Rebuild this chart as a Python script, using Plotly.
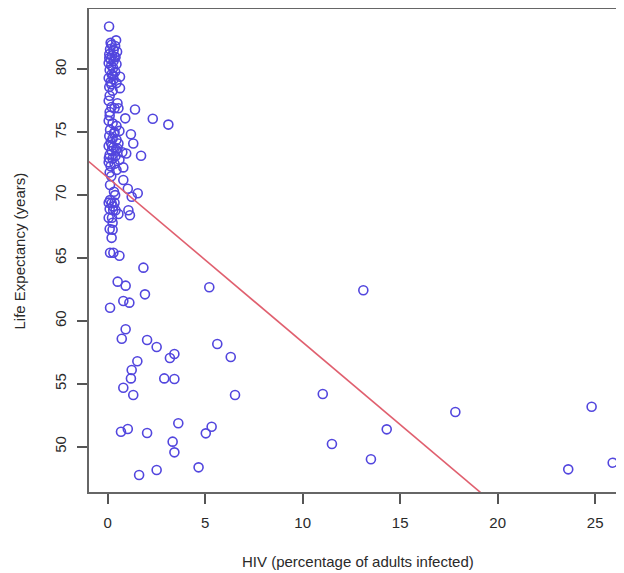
import plotly.graph_objects as go

# HIV (% adults infected) and life expectancy (years)
hiv = [
    0.07, 0.43, 0.20, 0.38, 0.12, 0.30, 0.48, 0.08, 0.22, 0.40,
    0.15, 0.30, 0.05, 0.45, 0.18, 0.28, 0.10, 0.38, 0.20, 0.63,
    0.05, 0.30, 0.15, 0.45, 0.08, 0.63, 0.25, 0.10, 0.05, 0.20,
    0.35, 0.55, 0.10, 0.90, 1.40, 2.31, 3.11, 0.05, 0.25, 0.45,
    0.12, 0.35, 0.60, 1.19, 0.08, 0.25, 0.45, 0.15, 0.55, 1.31,
    0.05, 0.30, 0.50, 0.20, 0.75, 0.95, 0.10, 0.40, 1.71, 0.25,
    0.60, 0.05, 0.35, 0.15, 0.80, 0.45, 0.10, 0.80, 0.12, 1.03,
    0.32, 1.54, 1.23, 0.05, 0.20, 0.35, 0.10, 0.28, 0.40, 1.06,
    1.14, 0.05, 0.22, 0.25, 0.10, 0.25, 0.20, 0.12, 0.29, 0.60,
    1.83, 0.51, 0.92, 1.91, 0.80, 1.11, 0.12, 0.92, 0.72, 2.02,
    2.51, 3.42, 3.19, 1.52, 1.23, 1.19, 2.90, 3.42, 0.80, 1.31,
    3.62, 0.68, 1.03, 2.02, 3.33, 3.42, 2.51, 1.61, 4.66, 5.21,
    13.11, 5.62, 6.31, 6.53, 5.33, 5.03, 11.03, 14.31, 11.50, 13.50,
    17.83, 24.82, 23.62, 25.90, 0.15, 0.35, 0.08, 0.28, 0.18, 0.50,
    0.10, 0.32, 0.22, 0.42, 0.06, 0.18, 0.38, 0.12, 0.27, 0.55,
]
life_exp = [
    83.4, 82.3, 81.95, 81.85, 81.6, 81.5, 81.4, 81.2, 81.1, 80.95,
    80.8, 80.65, 80.5, 80.4, 80.3, 80.1, 79.95, 79.8, 79.6, 79.4,
    79.3, 79.2, 79.0, 78.9, 78.6, 78.5, 78.3, 77.9, 77.5, 77.0,
    76.9, 76.9, 76.6, 76.1, 76.8, 76.07, 75.6, 75.9, 75.7, 75.5,
    75.2, 75.0, 75.1, 74.83, 74.7, 74.5, 74.4, 74.2, 74.1, 74.1,
    73.9, 73.8, 73.7, 73.5, 73.4, 73.3, 73.2, 73.1, 73.13, 72.9,
    72.8, 72.6, 72.5, 72.3, 72.2, 72.0, 71.8, 71.2, 70.8, 70.5,
    70.27, 70.14, 69.87, 69.4, 69.35, 69.4, 68.9, 68.8, 68.8, 68.8,
    68.4, 68.2, 68.2, 67.8, 67.3, 67.25, 66.6, 65.42, 65.42, 65.18,
    64.23, 63.12, 62.8, 62.11, 61.58, 61.45, 61.05, 59.33, 58.58, 58.48,
    57.93, 57.37, 57.05, 56.79, 56.1, 55.43, 55.43, 55.38, 54.69, 54.11,
    51.86, 51.19, 51.41, 51.09, 50.4, 49.55, 48.15, 47.75, 48.36, 62.67,
    62.43, 58.16, 57.13, 54.11, 51.59, 51.06, 54.19, 51.38, 50.21, 49.0,
    52.76, 53.18, 48.2, 48.73, 82.1, 81.0, 80.9, 79.5, 78.8, 77.3,
    76.3, 74.9, 73.95, 73.6, 72.95, 71.5, 70.0, 69.6, 69.1, 68.5,
]

# fitted regression line: life_exp = intercept + slope * hiv
fit_intercept = 71.39
fit_slope = -1.309
fit_x = [-2.0, 30.0]
fit_y = [fit_intercept + fit_slope * v for v in fit_x]

x_ticks = [0, 5, 10, 15, 20, 25]
y_ticks = [50, 55, 60, 65, 70, 75, 80]

fig = go.Figure()
fig.add_trace(go.Scatter(
    x=hiv, y=life_exp, mode="markers",
    marker=dict(symbol="circle-open", size=9, color="rgb(82,70,222)",
                line=dict(width=1.6, color="rgb(82,70,222)")),
    showlegend=False, hoverinfo="x+y",
))
fig.add_trace(go.Scatter(
    x=fit_x, y=fit_y, mode="lines",
    line=dict(color="#e0606f", width=1.6),
    showlegend=False, hoverinfo="skip",
))

font = dict(family="Liberation Sans, Arial, sans-serif", size=15, color="#2a2a2a")

# the page body has an 8px margin, so the figure is 8px smaller than the window
fig.update_layout(
    width=616, height=565,
    margin=dict(l=81, r=0, t=1, b=81),
    paper_bgcolor="white", plot_bgcolor="white",
    font=font,
    xaxis=dict(
        range=[-0.96, 26.48], tickvals=x_ticks, ticks="outside", ticklen=10,
        tickwidth=1.5, tickcolor="#555", showgrid=False, zeroline=False,
        showline=True, linecolor="#666", linewidth=1.5, mirror=True,
        tickfont=font, ticklabelstandoff=6,
    ),
    yaxis=dict(
        range=[46.4, 84.79], tickvals=y_ticks, ticks="outside", ticklen=10,
        tickwidth=1.5, tickcolor="#555", showgrid=False, zeroline=False,
        showline=True, linecolor="#666", linewidth=1.5, mirror=False,
        tickangle=-90, tickfont=font, ticklabelstandoff=5,
    ),
    annotations=[
        dict(text="HIV (percentage of adults infected)", xref="paper", yref="paper",
             x=0.502, y=-0.1449, showarrow=False, font=font,
             xanchor="center", yanchor="middle"),
        dict(text="Life Expectancy (years)", xref="paper", yref="paper",
             x=-0.129, y=0.5, showarrow=False, font=font, textangle=-90,
             xanchor="center", yanchor="middle"),
    ],
)

fig.write_html("out.html")
